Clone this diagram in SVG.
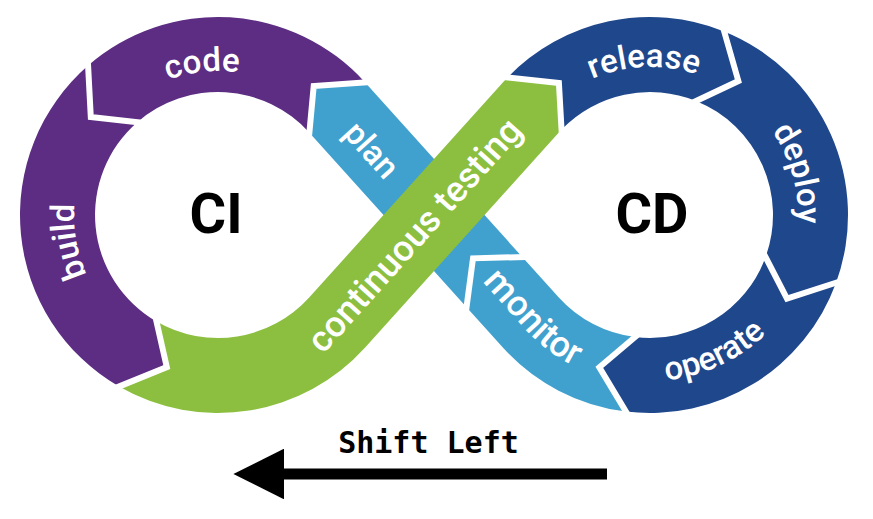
<svg xmlns="http://www.w3.org/2000/svg" width="873" height="519" viewBox="0 0 873 519">
<style>
.purple{fill:#5C2D82}
.lblue{fill:#41A1CE}
.dblue{fill:#1F478B}
.green{fill:#8CBF40}
.lbl{fill:#FFFFFF;font-family:Roboto,"Liberation Sans",sans-serif;font-weight:500;font-size:33px}
.big{font-size:36px}
.ring{fill:#000000;font-family:Roboto,"Liberation Sans",sans-serif;font-weight:700;font-size:56px}
.sep{fill:none;stroke:#FFFFFF;stroke-width:6;stroke-linejoin:miter}
.mono{fill:#000000;font-family:"DejaVu Sans Mono","Liberation Mono",monospace;font-weight:700;font-size:30px}
</style>
<defs>
<path id="p-code" d="M 86.45 156.44 A 144 144 0 0 1 334.5 130.36"/>
<path id="p-build" d="M 168.75 350.32 A 144 144 0 0 1 125.44 104.7"/>
<path id="p-release" d="M 519.08 145.97 A 148 148 0 0 1 775.24 136.13"/>
<path id="p-deploy" d="M 686.56 71.59 A 148 148 0 0 1 755.92 318.36"/>
<path id="p-operate" d="M 579.85 365.45 A 166 166 0 0 0 810.35 257.96"/>
<path id="p-monitor" d="M 457.35 253.92 L 524.26 328.24 A 169.2 169.2 0 0 0 608.8 379.1"/>
<path id="p-plan" d="M 296.39 83.24 L 430.21 231.86"/>
<path id="p-test" d="M 289.62 391.79 L 557.26 94.55"/>
<marker id="ah" viewBox="0 0 10 10" refX="0" refY="5" markerWidth="4.6" markerHeight="4.6" markerUnits="strokeWidth" orient="auto-start-reverse">
<path d="M 0 0 L 10 5 L 0 10 Z" fill="#000000"/>
</marker>
</defs>
<rect x="0" y="0" width="873" height="519" fill="#FFFFFF"/>

<g id="plan">
<path class="lblue" d="M 522.29 257.01 L 473.01 258.32 L 466.55 307.19 L 309.41 132.67 L 313.7 86.1 L 365.15 82.49 Z"/>
<text class="lbl"><textPath href="#p-plan" startOffset="50%" text-anchor="middle">plan</textPath></text>
</g>
<g id="monitor">
<path class="lblue" d="M 625.87 411.52 A 198 198 0 0 1 502.85 347.51 L 466.55 307.19 L 473.01 258.32 L 522.29 257.01 L 558.6 297.3 A 123 123 0 0 0 635.01 337.08 L 599.34 367.3 Z"/>
<text class="lbl big"><textPath href="#p-monitor" startOffset="50%" text-anchor="middle">monitor</textPath></text>
</g>
<g id="code">
<path class="purple" d="M 365.15 82.49 A 198 198 0 0 0 88.1 65.6 L 90.8 117.1 L 137.3 122.2 A 123 123 0 0 1 309.41 132.67 L 313.7 86.1 Z"/>
<text class="lbl"><textPath href="#p-code" startOffset="50%" text-anchor="middle">code</textPath></text>
</g>
<g id="build">
<path class="purple" d="M 88.1 65.6 A 198 198 0 0 0 119 386.5 L 166.8 367.1 L 156.5 321.5 A 123 123 0 0 1 137.3 122.2 L 90.8 117.1 Z"/>
<text class="lbl"><textPath href="#p-build" startOffset="50%" text-anchor="middle">build</textPath></text>
</g>
<g id="release">
<path class="dblue" d="M 507.57 77.46 A 198 198 0 0 1 724.17 31.42 L 738.36 81.01 L 696.08 100.95 A 123 123 0 0 0 561.52 129.56 L 558.9 82.9 Z"/>
<text class="lbl"><textPath href="#p-release" startOffset="50%" text-anchor="middle">release</textPath></text>
</g>
<g id="deploy">
<path class="dblue" d="M 724.17 31.42 A 198 198 0 0 1 836.06 282.72 L 786.99 298.62 L 765.58 257.07 A 123 123 0 0 0 696.08 100.95 L 738.36 81.01 Z"/>
<text class="lbl"><textPath href="#p-deploy" startOffset="50%" text-anchor="middle">deploy</textPath></text>
</g>
<g id="operate">
<path class="dblue" d="M 836.06 282.72 A 198 198 0 0 1 625.87 411.52 L 599.34 367.3 L 635.01 337.08 A 123 123 0 0 0 765.58 257.07 L 786.99 298.62 Z"/>
<text class="lbl"><textPath href="#p-operate" startOffset="50%" text-anchor="middle">operate</textPath></text>
</g>
<g id="continuous-testing">
<path class="green" d="M 119 386.5 A 198 198 0 0 0 365.15 347.51 L 558.6 132.7 A 123 123 0 0 1 561.52 129.56 L 558.9 82.9 L 507.57 77.46 A 198 198 0 0 0 502.85 82.49 L 309.4 297.3 A 123 123 0 0 1 156.5 321.5 L 166.8 367.1 Z"/>
<text class="lbl big"><textPath href="#p-test" startOffset="50%" text-anchor="middle">continuous testing</textPath></text>
</g>

<g id="separators">
<polyline class="sep" points="378.0,81.6 313.7,86.1 308.3,144.3"/>
<polyline class="sep" points="87.4,52.7 90.8,117.1 148.9,123.5"/>
<polyline class="sep" points="107.05,391.35 166.8,367.1 153.9,310.1"/>
<polyline class="sep" points="494.7,76.1 558.9,82.9 562.2,141.2"/>
<polyline class="sep" points="720.62,19.02 738.36,81.01 685.51,105.94"/>
<polyline class="sep" points="848.33,278.74 786.99,298.62 760.23,246.68"/>
<polyline class="sep" points="632.5,422.58 599.34,367.3 643.93,329.52"/>
<polyline class="sep" points="534.6,256.7 473.01,258.32 464.9,319.4"/>
</g>

<g id="ci">
<text class="ring" x="216" y="233" text-anchor="middle">CI</text>
</g>
<g id="cd">
<text class="ring" x="652" y="233" text-anchor="middle">CD</text>
</g>
<g id="shift-left">
<text class="mono" x="428.5" y="453" text-anchor="middle">Shift Left</text>
</g>

<g id="connectors">
<line x1="607" y1="474" x2="284" y2="474" stroke="#000000" stroke-width="11" marker-end="url(#ah)"/>
</g>
</svg>
